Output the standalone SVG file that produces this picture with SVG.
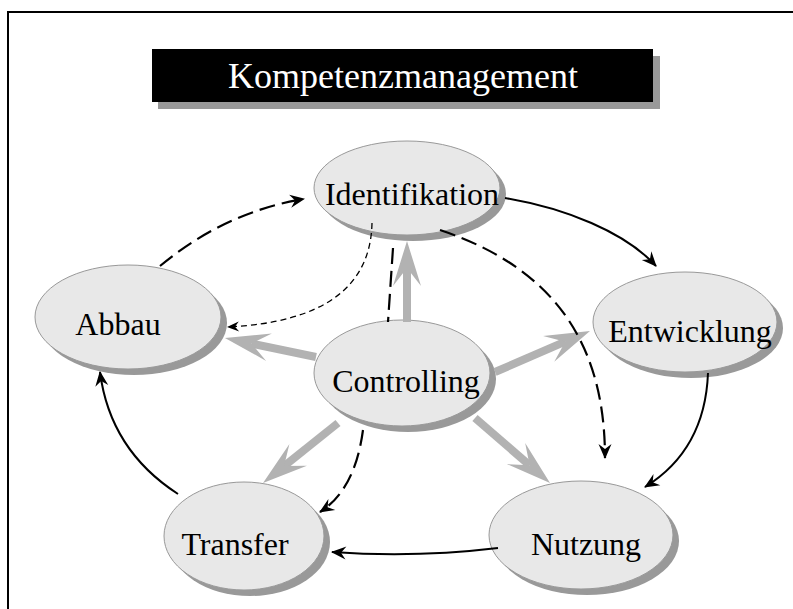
<svg xmlns="http://www.w3.org/2000/svg" width="793" height="609" viewBox="0 0 793 609">
<style>
.frame{fill:none;stroke:#000;stroke-width:2}
.shadow{fill:#999}
.node{fill:#e8e8e8;stroke:#999;stroke-width:1}
.label{font-family:"Liberation Serif","Times New Roman",serif;font-size:32px;fill:#000;text-anchor:middle}
.title{font-family:"Liberation Serif","Times New Roman",serif;font-size:36px;fill:#fff;text-anchor:middle}
.grey{fill:none;stroke:#b2b2b2;stroke-width:8;marker-end:url(#greyHead)}
.solid{fill:none;stroke:#000;stroke-width:2;marker-end:url(#blackHead)}
.dash{fill:none;stroke:#000;stroke-width:2.2;stroke-dasharray:16 7;marker-end:url(#blackHead)}
.thin{fill:none;stroke:#000;stroke-width:1.3;stroke-dasharray:6 4;marker-end:url(#smallHead)}
</style>
<defs>
<marker id="greyHead" markerUnits="userSpaceOnUse" viewBox="-20 -16 50 32" refX="0" refY="0" markerWidth="50" markerHeight="32" orient="auto">
<path d="M27,0 L-18,-14 L0,0 L-18,14 Z" fill="#b2b2b2"/>
</marker>
<marker id="blackHead" markerUnits="userSpaceOnUse" viewBox="-16 -8 18 16" refX="0" refY="0" markerWidth="18" markerHeight="16" orient="auto">
<path d="M1,0 L-14,-6.5 L-9,0 L-14,6.5 Z" fill="#000"/>
</marker>
<marker id="smallHead" markerUnits="userSpaceOnUse" viewBox="-13 -7 15 14" refX="0" refY="0" markerWidth="15" markerHeight="14" orient="auto">
<path d="M1,0 L-11,-5 L-7,0 L-11,5 Z" fill="#000"/>
</marker>
</defs>
<rect class="frame" x="8" y="12" width="800" height="620"/>
<g id="title">
<rect class="shadow" x="158" y="56" width="502" height="53"/>
<rect x="152" y="49" width="501" height="53" fill="#000"/>
<text class="title" x="403" y="88">Kompetenzmanagement</text>
</g>
<g id="identifikation">
<ellipse class="shadow" cx="413" cy="194" rx="93" ry="47"/>
<ellipse class="node" cx="407" cy="188" rx="93" ry="47"/>
<text class="label" x="412" y="205">Identifikation</text>
</g>
<g id="abbau">
<ellipse class="shadow" cx="134" cy="323" rx="93" ry="52"/>
<ellipse class="node" cx="128" cy="317" rx="93" ry="52"/>
<text class="label" x="118" y="335">Abbau</text>
</g>
<g id="entwicklung">
<ellipse class="shadow" cx="691" cy="328" rx="92" ry="50"/>
<ellipse class="node" cx="685" cy="322" rx="92" ry="50"/>
<text class="label" x="690" y="342">Entwicklung</text>
</g>
<g id="controlling">
<ellipse class="shadow" cx="408" cy="379" rx="88" ry="53"/>
<ellipse class="node" cx="402" cy="373" rx="88" ry="53"/>
<text class="label" x="406" y="392">Controlling</text>
</g>
<g id="transfer">
<ellipse class="shadow" cx="250" cy="542" rx="80" ry="54"/>
<ellipse class="node" cx="244" cy="536" rx="80" ry="54"/>
<text class="label" x="235" y="555">Transfer</text>
</g>
<g id="nutzung">
<ellipse class="shadow" cx="587" cy="541" rx="92" ry="54"/>
<ellipse class="node" cx="581" cy="535" rx="92" ry="54"/>
<text class="label" x="586" y="555">Nutzung</text>
</g>
<g id="connectors">
<path class="grey" d="M407,322 L407,268"/>
<path class="grey" d="M316,357 L251.4,343.5"/>
<path class="grey" d="M495,372 L565.2,341.7"/>
<path class="grey" d="M475,418 L529.6,465.3"/>
<path class="grey" d="M338,423 L284.1,466.1"/>
<path class="dash" d="M160,266 Q225,212 304,199"/>
<path class="solid" d="M505,198 C565,208 625,232 656,266"/>
<path class="solid" d="M708,373 Q705,450 645,487"/>
<path class="solid" d="M498,548 Q415,558 332,552"/>
<path class="solid" d="M178,494 Q110,450 100,372"/>
<path class="thin" d="M372,223 Q370,320 228,327"/>
<path class="dash" d="M440,230 C560,270 605,350 605,458"/>
<path class="dash" style="marker-end:none" d="M393,248 L388,322"/>
<path class="dash" d="M363,430 Q355,490 320,512"/>
</g>
</svg>
